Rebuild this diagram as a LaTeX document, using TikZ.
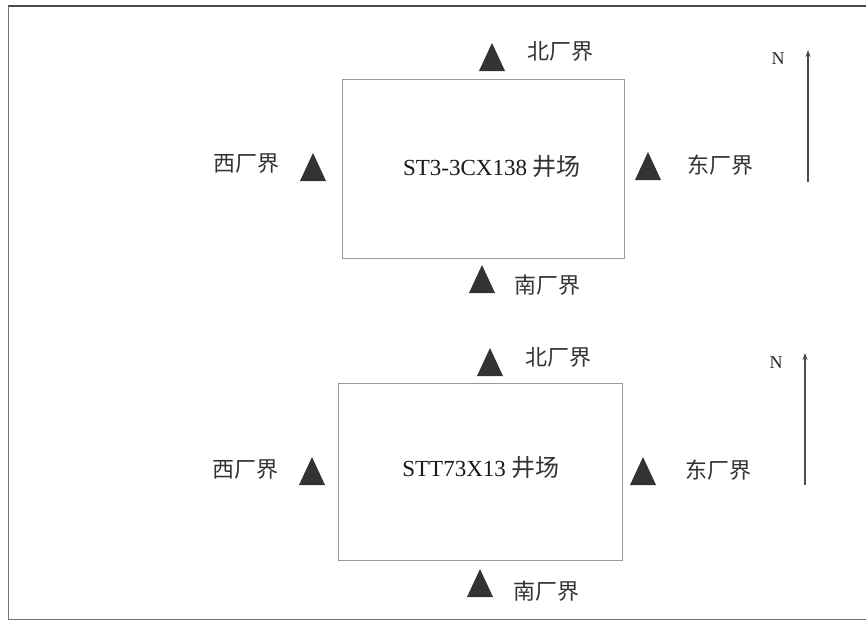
\documentclass[tikz,border=0pt]{standalone}
\usepackage{fontspec}
\setmainfont{Liberation Serif}
\newfontfamily\cjk{Noto Sans CJK SC}
\usetikzlibrary{arrows.meta}
\begin{document}
\begin{tikzpicture}[x=1pt,y=-1pt,
  lbl/.style={inner sep=0pt, font=\cjk\fontsize{22}{24}\selectfont, text=black!80},
  ttl/.style={inner sep=0pt, font=\fontsize{23}{26}\selectfont, text=black!90},
  site/.style={draw=black!40, line width=1pt, inner sep=0pt},
  tri/.style={minimum width=26pt, minimum height=28pt, inner sep=0pt, outer sep=0pt,
    path picture={\fill[black!80] (path picture bounding box.south west) -- (path picture bounding box.south east) -- (path picture bounding box.north) -- cycle;}},
  narrow/.style={draw=black!70, line width=1.2pt, -{Stealth[length=7pt,width=5pt]}},
  nlbl/.style={inner sep=0pt, font=\fontsize{18}{20}\selectfont, text=black!85}
]
\useasboundingbox (0,0) rectangle (866,630);
\fill[white] (0,0) rectangle (866,630);
% frame
\coordinate (ftr) at (866,6);
\coordinate (ftl) at (8,6);
\coordinate (fbl) at (8,619);
\coordinate (fbr) at (866,619);
\draw[black!70, line width=2pt] (ftr) -- (ftl);
\draw[black!55, line width=1pt] (ftl) -- (fbl) -- (fbr);

% ---- top site ----
\node[site, minimum width=282pt, minimum height=179pt] (s1) at (483,168.5) {};
\node[ttl] (t1) at (492,167) {ST3-3CX138 {\cjk\fontsize{24}{26}\selectfont\color{black!80} 井场}};
\node[tri] (n1) at (492,57) {};
\node[lbl] (n1l) at (560,51) {北厂界};
\node[tri] (so1) at (482,279) {};
\node[lbl] (so1l) at (547,285) {南厂界};
\node[tri] (w1) at (313,167) {};
\node[lbl] (w1l) at (246,164) {西厂界};
\node[tri] (e1) at (648,166) {};
\node[lbl] (e1l) at (720,165) {东厂界};
\coordinate (a1s) at (808,182);
\coordinate (a1e) at (808,50);
\draw[narrow] (a1s) -- (a1e);
\node[nlbl] (nl1) at (778,59) {N};

% ---- bottom site ----
\node[site, minimum width=284pt, minimum height=177pt] (s2) at (480,471.5) {};
\node[ttl] (t2) at (481,468) {STT73X13 {\cjk\fontsize{24}{26}\selectfont\color{black!80} 井场}};
\node[tri] (n2) at (490,362) {};
\node[lbl] (n2l) at (558,357) {北厂界};
\node[tri] (so2) at (480,583) {};
\node[lbl] (so2l) at (546,591) {南厂界};
\node[tri] (w2) at (312,471) {};
\node[lbl] (w2l) at (245,470) {西厂界};
\node[tri] (e2) at (643,471) {};
\node[lbl] (e2l) at (718,470) {东厂界};
\coordinate (a2s) at (805,485);
\coordinate (a2e) at (805,353);
\draw[narrow] (a2s) -- (a2e);
\node[nlbl] (nl2) at (776,363) {N};
\end{tikzpicture}
\end{document}
